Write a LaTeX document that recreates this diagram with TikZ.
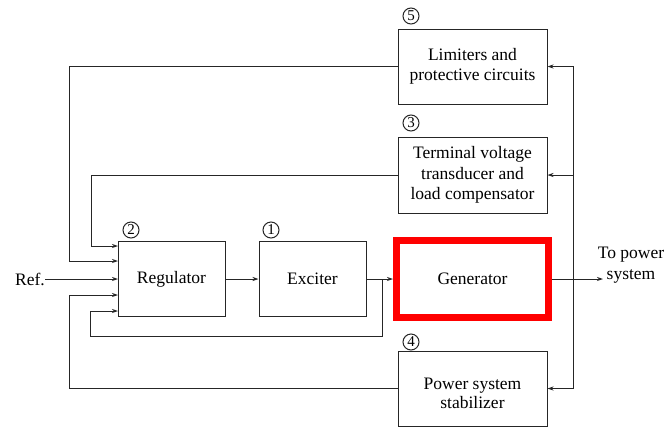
\documentclass[tikz,border=0pt]{standalone}
\usepackage{fontspec}
\setmainfont{Liberation Serif}
\newfontfamily\tms{Liberation Serif}
\usetikzlibrary{arrows.meta,calc}
\tikzset{
  blk/.style={draw=black!85, line width=1pt, minimum width=149pt, minimum height=75pt, inner sep=2pt, align=center, font=\tms\fontsize{17.5}{20.5}\selectfont},
  genblk/.style={draw=red, line width=7pt, minimum width=152pt, minimum height=77pt, align=center, font=\tms\fontsize{17.5}{20.5}\selectfont},
  num/.style={draw=black!85, circle, line width=1pt, minimum size=16pt, inner sep=0pt, font=\tms\fontsize{15}{15}\selectfont},
  wire/.style={draw=black!85, line width=0.9pt},
  arr/.style={wire, -{Stealth[length=6pt,width=4pt]}},
  lbl/.style={align=center, font=\tms\fontsize{17.5}{20.5}\selectfont, inner sep=0pt}
}
\begin{document}
\begin{tikzpicture}[x=1pt,y=-1pt]
\useasboundingbox (0,0) rectangle (667,429);
% blocks
\node[blk, minimum width=107pt] (reg) at (171.5,279) {Regulator};
\node[blk, minimum width=107pt] (exc) at (312.5,279) {Exciter};
\node[genblk] (gen) at (472.5,279) {Generator};
\node[blk] (lim) at (472.5,66.5) {Limiters and\\protective circuits};
\node[blk, minimum height=76pt] (term) at (472.5,175) {Terminal voltage\\transducer and\\load compensator};
\node[blk] (pss) at (472.5,388.5) {\raisebox{-5pt}[\height][\depth]{\shortstack{Power system\\stabilizer}}};
% numbers
\node[num] (n1) at (271,230) {1};
\node[num] (n2) at (131,230) {2};
\node[num] (n3) at (411,123) {3};
\node[num] (n4) at (411,342) {4};
\node[num] (n5) at (411,16) {5};
% labels
\node[lbl, anchor=east] (ref) at (45,279) {Ref.};
\node[lbl] (out) at (631,265) {To power\\system};
% coordinates
\coordinate (in1) at (118,246);
\coordinate (in2) at (118,261);
\coordinate (in3) at (118,279);
\coordinate (in4) at (118,295);
\coordinate (in5) at (118,311);
\coordinate (outp) at (603,279);
\coordinate (jx) at (382,279);
\coordinate (jr) at (573,279);
\coordinate (b1) at (382,336);
\coordinate (b2) at (90,336);
\coordinate (l1) at (69,261);
\coordinate (t1) at (91,246);
\coordinate (p1) at (69,295);
% forward path
\draw[arr] (ref.east) -- (in3);
\draw[arr] (reg.east) -- (exc.west);
\draw[arr] (exc.east) -- (gen.west);
\draw[arr] (gen.east) -- (outp);
% exciter output feedback
\draw[arr] (jx) -- (b1) -- (b2) |- (in5);
% right feedback bus
\draw[wire] (573,66.5) -- (573,388.5);
\draw[arr] (jr) |- (lim.east);
\draw[arr] (jr) |- (term.east);
\draw[arr] (jr) |- (pss.east);
% returns to regulator
\draw[arr] (lim.west) -| (l1) -- (in2);
\draw[arr] (term.west) -| (t1) -- (in1);
\draw[arr] (pss.west) -| (p1) -- (in4);
\end{tikzpicture}
\end{document}
